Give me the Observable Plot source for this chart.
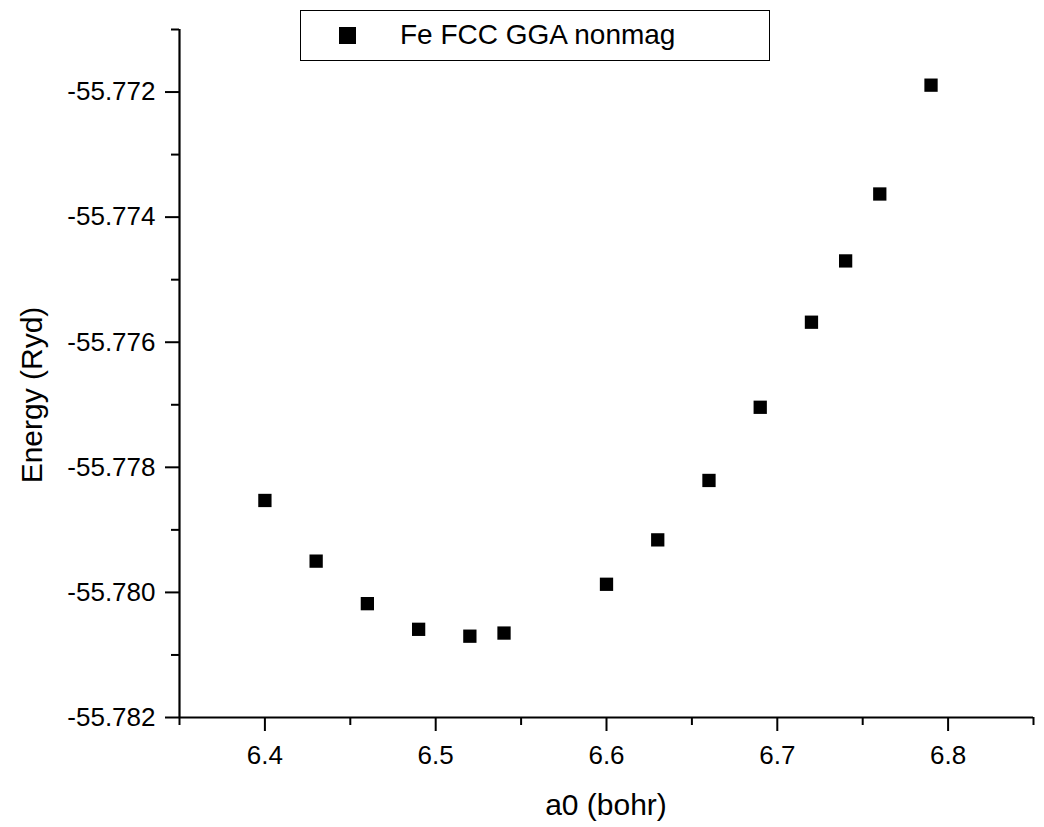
<!DOCTYPE html>
<html>
<head>
<meta charset="utf-8">
<script src="https://cdn.jsdelivr.net/npm/d3@7"></script>
<script src="https://cdn.jsdelivr.net/npm/@observablehq/plot@0.6"></script>
<style>
  html, body { margin: 0; padding: 0; background: #fff; }
  #wrap { position: relative; width: 1044px; height: 827px; font-family: "Liberation Sans", Arial, sans-serif; }
  #legend { position: absolute; left: 300px; top: 10px; width: 470px; height: 51px; border: 1.5px solid #000; box-sizing: border-box; background: #fff; }
  #legend .sw { position: absolute; left: 38px; top: 16px; width: 17px; height: 17px; background: #000; }
  #legend .lb { position: absolute; left: 99px; top: 8px; font-size: 28px; line-height: 32px; color: #000; white-space: nowrap; }
</style>
</head>
<body>
<div id="wrap"></div>
<script>
// Data
const seriesName = "Fe FCC GGA nonmag";
const a0 = [6.40, 6.43, 6.46, 6.49, 6.52, 6.54, 6.60, 6.63, 6.66, 6.69, 6.72, 6.74, 6.76, 6.79];
const energy = [-55.77853, -55.77950, -55.78018, -55.78059, -55.78070, -55.78065, -55.77987,
                -55.77916, -55.77821, -55.77704, -55.77568, -55.77470, -55.77363, -55.77189];
const xDomain = [6.35, 6.85];
const yDomain = [-55.782, -55.771];
const xMajorTicks = [6.4, 6.5, 6.6, 6.7, 6.8];
const xMinorTicks = [6.35, 6.45, 6.55, 6.65, 6.75, 6.85];
const yMajorTicks = [-55.782, -55.780, -55.778, -55.776, -55.774, -55.772];
const yMinorTicks = [-55.781, -55.779, -55.777, -55.775, -55.773, -55.771];
const xLabel = "a0 (bohr)";
const yLabel = "Energy (Ryd)";

const data = a0.map((x, i) => ({x, y: energy[i]}));
const FONT = '"Liberation Sans", Arial, sans-serif';

const plot = Plot.plot({
  width: 1044,
  height: 827,
  marginLeft: 179,
  marginRight: 11,
  marginTop: 29,
  marginBottom: 110,
  style: {fontFamily: FONT, fontSize: "26px", color: "#000", background: "#fff", overflow: "visible"},
  x: {domain: xDomain, label: null},
  y: {domain: yDomain, label: null},
  marks: [
    Plot.axisX(xMajorTicks, {tickSize: 14, tickPadding: 14, strokeWidth: 2, fontSize: 26, tickFormat: d => d.toFixed(1), label: null}),
    Plot.axisX(xMinorTicks, {tickSize: 8, strokeWidth: 2, tickFormat: () => "", label: null}),
    Plot.axisY(yMajorTicks, {tickSize: 14, tickPadding: 10, strokeWidth: 2, fontSize: 26, tickFormat: d => d.toFixed(3), label: null}),
    Plot.axisY(yMinorTicks, {tickSize: 8, strokeWidth: 2, tickFormat: () => "", label: null}),
    Plot.ruleY([yDomain[0]], {stroke: "#000", strokeWidth: 2.2}),
    Plot.ruleX([xDomain[0]], {stroke: "#000", strokeWidth: 2.2}),
    Plot.dot(data, {x: "x", y: "y", symbol: "square", r: 7.5, fill: "#000", stroke: null})
  ]
});

const svg = d3.select(plot);
const xr = plot.scale("x").range;
const yr = plot.scale("y").range;
svg.append("text")
  .attr("x", (xr[0] + xr[1]) / 2)
  .attr("y", 815)
  .attr("text-anchor", "middle")
  .attr("font-family", FONT)
  .attr("font-size", 30)
  .attr("fill", "#000")
  .text(xLabel);
svg.append("text")
  .attr("transform", `translate(42,${(yr[0] + yr[1]) / 2 + 22}) rotate(-90)`)
  .attr("text-anchor", "middle")
  .attr("font-family", FONT)
  .attr("font-size", 30)
  .attr("fill", "#000")
  .text(yLabel);

const wrap = document.getElementById("wrap");
wrap.appendChild(plot);
const legend = document.createElement("div");
legend.id = "legend";
legend.innerHTML = `<div class="sw"></div><div class="lb"></div>`;
legend.querySelector(".lb").textContent = seriesName;
wrap.appendChild(legend);
</script>
</body>
</html>
